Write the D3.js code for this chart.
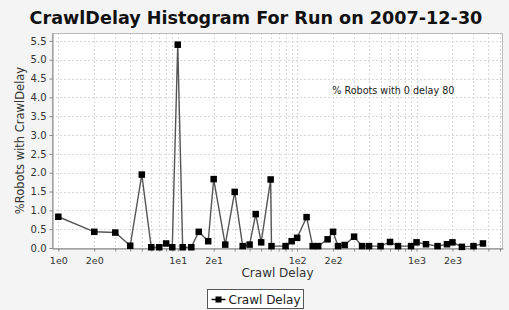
<!DOCTYPE html>
<html>
<head>
<meta charset="utf-8">
<script src="https://cdn.jsdelivr.net/npm/d3@7"></script>
<style>
  body { margin: 0; background: #f4f4f4; }
  svg { display: block; font-family: "DejaVu Sans", sans-serif; }
</style>
</head>
<body>
<svg id="chart" width="509" height="310"></svg>
<script>
const delays = [1, 2, 3, 4, 5, 6, 7, 8, 9, 10, 11, 13, 15, 18, 20, 25, 30, 35, 40, 45, 50, 60, 61,
  80, 90, 100, 120, 135, 150, 180, 200, 220, 250, 300, 350, 400, 500, 600, 700, 900,
  1000, 1200, 1500, 1800, 2000, 2400, 3000, 3600];
const percents = [0.83, 0.43, 0.41, 0.06, 1.95, 0.02, 0.02, 0.12, 0.02, 5.4, 0.02, 0.02, 0.43, 0.18, 1.83, 0.09, 1.49, 0.05, 0.09, 0.90, 0.15, 1.82, 0.05,
  0.05, 0.18, 0.27, 0.82, 0.05, 0.05, 0.23, 0.43, 0.05, 0.08, 0.30, 0.05, 0.05, 0.05, 0.16, 0.05, 0.05,
  0.15, 0.10, 0.05, 0.10, 0.15, 0.03, 0.05, 0.12];
const yTicks = [0, 0.5, 1, 1.5, 2, 2.5, 3, 3.5, 4, 4.5, 5, 5.5];
const zeroDelayNote = "% Robots with 0 delay 80";

const data = delays.map((d, i) => ({ delay: d, pct: percents[i] }));

const svg = d3.select("#chart");
const plotLeft = 52, plotRight = 503, plotTop = 33, plotBottom = 248;

const x = d3.scaleLog().domain([0.885, 5300]).range([plotLeft, plotRight]);
const y = d3.scaleLinear().domain([0, 5.71]).range([plotBottom, plotTop]);

// minor ticks: 1..9 in each decade
const xTicks = [];
[1, 10, 100, 1000].forEach(dec => {
  for (let k = 1; k <= 9; k++) {
    const v = k * dec;
    if (v <= x.domain()[1]) xTicks.push(v);
  }
});

svg.append("rect")
  .attr("x", plotLeft).attr("y", plotTop)
  .attr("width", plotRight - plotLeft).attr("height", plotBottom - plotTop)
  .attr("fill", "#fff");

// grid
svg.append("g")
  .selectAll("line")
  .data(xTicks)
  .join("line")
    .attr("x1", d => Math.round(x(d)) + 0.5).attr("x2", d => Math.round(x(d)) + 0.5)
    .attr("y1", plotTop).attr("y2", plotBottom)
    .attr("stroke", "#d8d8d8").attr("stroke-dasharray", "2,2");

svg.append("g")
  .selectAll("line")
  .data(yTicks.slice(1))
  .join("line")
    .attr("x1", plotLeft).attr("x2", plotRight)
    .attr("y1", d => Math.round(y(d)) + 0.5).attr("y2", d => Math.round(y(d)) + 0.5)
    .attr("stroke", "#d8d8d8").attr("stroke-dasharray", "2,2");

// plot outline
svg.append("rect")
  .attr("x", plotLeft + 0.5).attr("y", plotTop + 0.5)
  .attr("width", plotRight - plotLeft - 1).attr("height", plotBottom - plotTop)
  .attr("fill", "none").attr("stroke", "#bbb");

// axes
const xAxis = d3.axisBottom(x)
  .tickValues(xTicks)
  .tickSize(3)
  .tickSizeOuter(0)
  .tickFormat(d => {
    const e = Math.floor(Math.log10(d) + 1e-9);
    const k = Math.round(d / Math.pow(10, e));
    return (k === 1 || k === 2) ? `${k}e${e}` : "";
  });

const gx = svg.append("g")
  .attr("transform", `translate(0,${plotBottom + 0.5})`)
  .call(xAxis);
gx.select(".domain").attr("stroke", "#888");
gx.selectAll(".tick line").attr("stroke", "#888");
gx.selectAll(".tick text")
  .attr("font-size", 9.5).attr("font-family", "DejaVu Sans, sans-serif")
  .attr("fill", "#333").attr("dy", "0.95em");

const yAxis = d3.axisLeft(y)
  .tickValues(yTicks)
  .tickSize(3)
  .tickSizeOuter(0)
  .tickFormat(d3.format(".1f"));

const gy = svg.append("g")
  .attr("transform", `translate(${plotLeft + 0.5},0)`)
  .call(yAxis);
gy.select(".domain").attr("stroke", "#888");
gy.selectAll(".tick line").attr("stroke", "#888");
gy.selectAll(".tick text")
  .attr("font-size", 10).attr("font-family", "DejaVu Sans, sans-serif")
  .attr("fill", "#333");

// series
const line = d3.line()
  .x(d => x(d.delay))
  .y(d => y(d.pct));

svg.append("path")
  .datum(data)
  .attr("d", line)
  .attr("fill", "none")
  .attr("stroke", "#555")
  .attr("stroke-width", 1.4);

svg.append("g")
  .selectAll("rect")
  .data(data)
  .join("rect")
    .attr("x", d => x(d.delay) - 3.25)
    .attr("y", d => y(d.pct) - 3.25)
    .attr("width", 6.5).attr("height", 6.5)
    .attr("fill", "#000");

// annotation
svg.append("text")
  .attr("x", x(640)).attr("y", y(4.1))
  .attr("text-anchor", "middle")
  .attr("font-size", 9.6)
  .attr("fill", "#222")
  .text(zeroDelayNote);

// title
svg.append("text")
  .attr("x", 256).attr("y", 24)
  .attr("text-anchor", "middle")
  .attr("font-size", 17.6).attr("font-weight", "bold")
  .attr("fill", "#111")
  .text("CrawlDelay Histogram For Run on 2007-12-30");

// axis labels
svg.append("text")
  .attr("x", (plotLeft + plotRight) / 2).attr("y", 277)
  .attr("text-anchor", "middle")
  .attr("font-size", 12).attr("fill", "#333")
  .text("Crawl Delay");

svg.append("text")
  .attr("transform", `translate(24,${(plotTop + plotBottom) / 2}) rotate(-90)`)
  .attr("text-anchor", "middle")
  .attr("font-size", 11.5).attr("fill", "#333")
  .text("%Robots with CrawlDelay");

// legend
const lg = svg.append("g").attr("transform", "translate(207.5,289.5)");
lg.append("rect")
  .attr("width", 96).attr("height", 19)
  .attr("fill", "#fff").attr("stroke", "#555");
lg.append("line")
  .attr("x1", 4).attr("x2", 18).attr("y1", 10).attr("y2", 10)
  .attr("stroke", "#000").attr("stroke-width", 1.4);
lg.append("rect")
  .attr("x", 8).attr("y", 7).attr("width", 6).attr("height", 6)
  .attr("fill", "#000");
lg.append("text")
  .attr("x", 21).attr("y", 14.5)
  .attr("font-size", 12).attr("fill", "#222")
  .text("Crawl Delay");
</script>
</body>
</html>
